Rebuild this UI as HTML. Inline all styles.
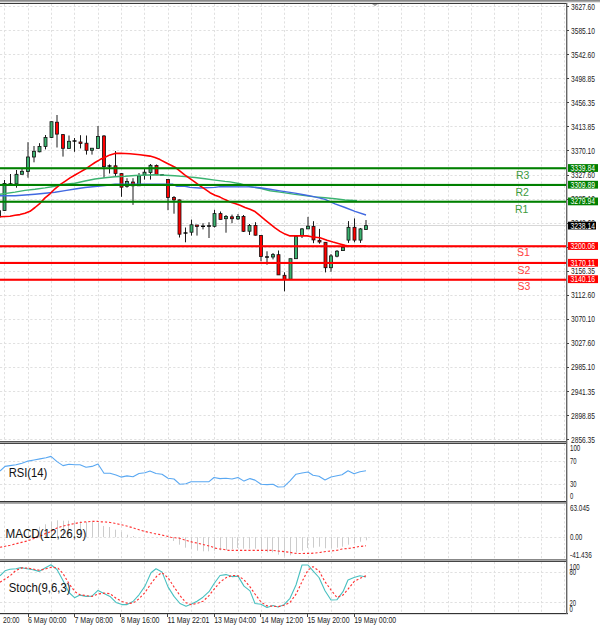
<!DOCTYPE html>
<html><head><meta charset="utf-8"><title>chart</title>
<style>html,body{margin:0;padding:0;background:#fff;width:600px;height:628px;overflow:hidden}</style>
</head><body>
<svg width="600" height="628" viewBox="0 0 600 628" font-family='"Liberation Sans", sans-serif' style="display:block">
<rect width="600" height="628" fill="#fff"/>
<rect x="0" y="0" width="600" height="1" fill="#8a8a8a"/>
<rect x="0" y="1" width="600" height="1" fill="#a8a8a8"/>
<rect x="0" y="2" width="600" height="1" fill="#e4e4e4"/>
<rect x="0" y="3" width="567" height="1" fill="#3a3a3a"/>
<line x1="4.5" y1="4.0" x2="4.5" y2="441.0" stroke="#e0e0e0" stroke-width="1" stroke-dasharray="2.2 2.13"/>
<line x1="28.5" y1="4.0" x2="28.5" y2="441.0" stroke="#e0e0e0" stroke-width="1" stroke-dasharray="2.2 2.13"/>
<line x1="51.5" y1="4.0" x2="51.5" y2="441.0" stroke="#e0e0e0" stroke-width="1" stroke-dasharray="2.2 2.13"/>
<line x1="74.5" y1="4.0" x2="74.5" y2="441.0" stroke="#e0e0e0" stroke-width="1" stroke-dasharray="2.2 2.13"/>
<line x1="98.5" y1="4.0" x2="98.5" y2="441.0" stroke="#e0e0e0" stroke-width="1" stroke-dasharray="2.2 2.13"/>
<line x1="121.5" y1="4.0" x2="121.5" y2="441.0" stroke="#e0e0e0" stroke-width="1" stroke-dasharray="2.2 2.13"/>
<line x1="144.5" y1="4.0" x2="144.5" y2="441.0" stroke="#e0e0e0" stroke-width="1" stroke-dasharray="2.2 2.13"/>
<line x1="168.5" y1="4.0" x2="168.5" y2="441.0" stroke="#e0e0e0" stroke-width="1" stroke-dasharray="2.2 2.13"/>
<line x1="191.5" y1="4.0" x2="191.5" y2="441.0" stroke="#e0e0e0" stroke-width="1" stroke-dasharray="2.2 2.13"/>
<line x1="214.5" y1="4.0" x2="214.5" y2="441.0" stroke="#e0e0e0" stroke-width="1" stroke-dasharray="2.2 2.13"/>
<line x1="238.5" y1="4.0" x2="238.5" y2="441.0" stroke="#e0e0e0" stroke-width="1" stroke-dasharray="2.2 2.13"/>
<line x1="261.5" y1="4.0" x2="261.5" y2="441.0" stroke="#e0e0e0" stroke-width="1" stroke-dasharray="2.2 2.13"/>
<line x1="284.5" y1="4.0" x2="284.5" y2="441.0" stroke="#e0e0e0" stroke-width="1" stroke-dasharray="2.2 2.13"/>
<line x1="308.5" y1="4.0" x2="308.5" y2="441.0" stroke="#e0e0e0" stroke-width="1" stroke-dasharray="2.2 2.13"/>
<line x1="331.5" y1="4.0" x2="331.5" y2="441.0" stroke="#e0e0e0" stroke-width="1" stroke-dasharray="2.2 2.13"/>
<line x1="354.5" y1="4.0" x2="354.5" y2="441.0" stroke="#e0e0e0" stroke-width="1" stroke-dasharray="2.2 2.13"/>
<line x1="378.5" y1="4.0" x2="378.5" y2="441.0" stroke="#e0e0e0" stroke-width="1" stroke-dasharray="2.2 2.13"/>
<line x1="401.5" y1="4.0" x2="401.5" y2="441.0" stroke="#e0e0e0" stroke-width="1" stroke-dasharray="2.2 2.13"/>
<line x1="424.5" y1="4.0" x2="424.5" y2="441.0" stroke="#e0e0e0" stroke-width="1" stroke-dasharray="2.2 2.13"/>
<line x1="448.5" y1="4.0" x2="448.5" y2="441.0" stroke="#e0e0e0" stroke-width="1" stroke-dasharray="2.2 2.13"/>
<line x1="471.5" y1="4.0" x2="471.5" y2="441.0" stroke="#e0e0e0" stroke-width="1" stroke-dasharray="2.2 2.13"/>
<line x1="494.5" y1="4.0" x2="494.5" y2="441.0" stroke="#e0e0e0" stroke-width="1" stroke-dasharray="2.2 2.13"/>
<line x1="518.5" y1="4.0" x2="518.5" y2="441.0" stroke="#e0e0e0" stroke-width="1" stroke-dasharray="2.2 2.13"/>
<line x1="541.5" y1="4.0" x2="541.5" y2="441.0" stroke="#e0e0e0" stroke-width="1" stroke-dasharray="2.2 2.13"/>
<line x1="564.5" y1="4.0" x2="564.5" y2="441.0" stroke="#e0e0e0" stroke-width="1" stroke-dasharray="2.2 2.13"/>
<line x1="0" y1="6.5" x2="566.5" y2="6.5" stroke="#e0e0e0" stroke-width="1" stroke-dasharray="2.2 2.13"/>
<line x1="0" y1="30.5" x2="566.5" y2="30.5" stroke="#e0e0e0" stroke-width="1" stroke-dasharray="2.2 2.13"/>
<line x1="0" y1="54.5" x2="566.5" y2="54.5" stroke="#e0e0e0" stroke-width="1" stroke-dasharray="2.2 2.13"/>
<line x1="0" y1="78.5" x2="566.5" y2="78.5" stroke="#e0e0e0" stroke-width="1" stroke-dasharray="2.2 2.13"/>
<line x1="0" y1="102.5" x2="566.5" y2="102.5" stroke="#e0e0e0" stroke-width="1" stroke-dasharray="2.2 2.13"/>
<line x1="0" y1="126.5" x2="566.5" y2="126.5" stroke="#e0e0e0" stroke-width="1" stroke-dasharray="2.2 2.13"/>
<line x1="0" y1="150.5" x2="566.5" y2="150.5" stroke="#e0e0e0" stroke-width="1" stroke-dasharray="2.2 2.13"/>
<line x1="0" y1="175.5" x2="566.5" y2="175.5" stroke="#e0e0e0" stroke-width="1" stroke-dasharray="2.2 2.13"/>
<line x1="0" y1="199.5" x2="566.5" y2="199.5" stroke="#e0e0e0" stroke-width="1" stroke-dasharray="2.2 2.13"/>
<line x1="0" y1="223.5" x2="566.5" y2="223.5" stroke="#e0e0e0" stroke-width="1" stroke-dasharray="2.2 2.13"/>
<line x1="0" y1="247.5" x2="566.5" y2="247.5" stroke="#e0e0e0" stroke-width="1" stroke-dasharray="2.2 2.13"/>
<line x1="0" y1="271.5" x2="566.5" y2="271.5" stroke="#e0e0e0" stroke-width="1" stroke-dasharray="2.2 2.13"/>
<line x1="0" y1="295.5" x2="566.5" y2="295.5" stroke="#e0e0e0" stroke-width="1" stroke-dasharray="2.2 2.13"/>
<line x1="0" y1="319.5" x2="566.5" y2="319.5" stroke="#e0e0e0" stroke-width="1" stroke-dasharray="2.2 2.13"/>
<line x1="0" y1="343.5" x2="566.5" y2="343.5" stroke="#e0e0e0" stroke-width="1" stroke-dasharray="2.2 2.13"/>
<line x1="0" y1="367.5" x2="566.5" y2="367.5" stroke="#e0e0e0" stroke-width="1" stroke-dasharray="2.2 2.13"/>
<line x1="0" y1="391.5" x2="566.5" y2="391.5" stroke="#e0e0e0" stroke-width="1" stroke-dasharray="2.2 2.13"/>
<line x1="0" y1="415.5" x2="566.5" y2="415.5" stroke="#e0e0e0" stroke-width="1" stroke-dasharray="2.2 2.13"/>
<line x1="0" y1="439.5" x2="566.5" y2="439.5" stroke="#e0e0e0" stroke-width="1" stroke-dasharray="2.2 2.13"/>
<line x1="4.5" y1="444.0" x2="4.5" y2="501.0" stroke="#e0e0e0" stroke-width="1" stroke-dasharray="2.2 2.13"/>
<line x1="28.5" y1="444.0" x2="28.5" y2="501.0" stroke="#e0e0e0" stroke-width="1" stroke-dasharray="2.2 2.13"/>
<line x1="51.5" y1="444.0" x2="51.5" y2="501.0" stroke="#e0e0e0" stroke-width="1" stroke-dasharray="2.2 2.13"/>
<line x1="74.5" y1="444.0" x2="74.5" y2="501.0" stroke="#e0e0e0" stroke-width="1" stroke-dasharray="2.2 2.13"/>
<line x1="98.5" y1="444.0" x2="98.5" y2="501.0" stroke="#e0e0e0" stroke-width="1" stroke-dasharray="2.2 2.13"/>
<line x1="121.5" y1="444.0" x2="121.5" y2="501.0" stroke="#e0e0e0" stroke-width="1" stroke-dasharray="2.2 2.13"/>
<line x1="144.5" y1="444.0" x2="144.5" y2="501.0" stroke="#e0e0e0" stroke-width="1" stroke-dasharray="2.2 2.13"/>
<line x1="168.5" y1="444.0" x2="168.5" y2="501.0" stroke="#e0e0e0" stroke-width="1" stroke-dasharray="2.2 2.13"/>
<line x1="191.5" y1="444.0" x2="191.5" y2="501.0" stroke="#e0e0e0" stroke-width="1" stroke-dasharray="2.2 2.13"/>
<line x1="214.5" y1="444.0" x2="214.5" y2="501.0" stroke="#e0e0e0" stroke-width="1" stroke-dasharray="2.2 2.13"/>
<line x1="238.5" y1="444.0" x2="238.5" y2="501.0" stroke="#e0e0e0" stroke-width="1" stroke-dasharray="2.2 2.13"/>
<line x1="261.5" y1="444.0" x2="261.5" y2="501.0" stroke="#e0e0e0" stroke-width="1" stroke-dasharray="2.2 2.13"/>
<line x1="284.5" y1="444.0" x2="284.5" y2="501.0" stroke="#e0e0e0" stroke-width="1" stroke-dasharray="2.2 2.13"/>
<line x1="308.5" y1="444.0" x2="308.5" y2="501.0" stroke="#e0e0e0" stroke-width="1" stroke-dasharray="2.2 2.13"/>
<line x1="331.5" y1="444.0" x2="331.5" y2="501.0" stroke="#e0e0e0" stroke-width="1" stroke-dasharray="2.2 2.13"/>
<line x1="354.5" y1="444.0" x2="354.5" y2="501.0" stroke="#e0e0e0" stroke-width="1" stroke-dasharray="2.2 2.13"/>
<line x1="378.5" y1="444.0" x2="378.5" y2="501.0" stroke="#e0e0e0" stroke-width="1" stroke-dasharray="2.2 2.13"/>
<line x1="401.5" y1="444.0" x2="401.5" y2="501.0" stroke="#e0e0e0" stroke-width="1" stroke-dasharray="2.2 2.13"/>
<line x1="424.5" y1="444.0" x2="424.5" y2="501.0" stroke="#e0e0e0" stroke-width="1" stroke-dasharray="2.2 2.13"/>
<line x1="448.5" y1="444.0" x2="448.5" y2="501.0" stroke="#e0e0e0" stroke-width="1" stroke-dasharray="2.2 2.13"/>
<line x1="471.5" y1="444.0" x2="471.5" y2="501.0" stroke="#e0e0e0" stroke-width="1" stroke-dasharray="2.2 2.13"/>
<line x1="494.5" y1="444.0" x2="494.5" y2="501.0" stroke="#e0e0e0" stroke-width="1" stroke-dasharray="2.2 2.13"/>
<line x1="518.5" y1="444.0" x2="518.5" y2="501.0" stroke="#e0e0e0" stroke-width="1" stroke-dasharray="2.2 2.13"/>
<line x1="541.5" y1="444.0" x2="541.5" y2="501.0" stroke="#e0e0e0" stroke-width="1" stroke-dasharray="2.2 2.13"/>
<line x1="564.5" y1="444.0" x2="564.5" y2="501.0" stroke="#e0e0e0" stroke-width="1" stroke-dasharray="2.2 2.13"/>
<line x1="0" y1="461.5" x2="566.5" y2="461.5" stroke="#e0e0e0" stroke-width="1" stroke-dasharray="2.2 2.13"/>
<line x1="0" y1="484.5" x2="566.5" y2="484.5" stroke="#e0e0e0" stroke-width="1" stroke-dasharray="2.2 2.13"/>
<line x1="4.5" y1="504.0" x2="4.5" y2="559.0" stroke="#e0e0e0" stroke-width="1" stroke-dasharray="2.2 2.13"/>
<line x1="28.5" y1="504.0" x2="28.5" y2="559.0" stroke="#e0e0e0" stroke-width="1" stroke-dasharray="2.2 2.13"/>
<line x1="51.5" y1="504.0" x2="51.5" y2="559.0" stroke="#e0e0e0" stroke-width="1" stroke-dasharray="2.2 2.13"/>
<line x1="74.5" y1="504.0" x2="74.5" y2="559.0" stroke="#e0e0e0" stroke-width="1" stroke-dasharray="2.2 2.13"/>
<line x1="98.5" y1="504.0" x2="98.5" y2="559.0" stroke="#e0e0e0" stroke-width="1" stroke-dasharray="2.2 2.13"/>
<line x1="121.5" y1="504.0" x2="121.5" y2="559.0" stroke="#e0e0e0" stroke-width="1" stroke-dasharray="2.2 2.13"/>
<line x1="144.5" y1="504.0" x2="144.5" y2="559.0" stroke="#e0e0e0" stroke-width="1" stroke-dasharray="2.2 2.13"/>
<line x1="168.5" y1="504.0" x2="168.5" y2="559.0" stroke="#e0e0e0" stroke-width="1" stroke-dasharray="2.2 2.13"/>
<line x1="191.5" y1="504.0" x2="191.5" y2="559.0" stroke="#e0e0e0" stroke-width="1" stroke-dasharray="2.2 2.13"/>
<line x1="214.5" y1="504.0" x2="214.5" y2="559.0" stroke="#e0e0e0" stroke-width="1" stroke-dasharray="2.2 2.13"/>
<line x1="238.5" y1="504.0" x2="238.5" y2="559.0" stroke="#e0e0e0" stroke-width="1" stroke-dasharray="2.2 2.13"/>
<line x1="261.5" y1="504.0" x2="261.5" y2="559.0" stroke="#e0e0e0" stroke-width="1" stroke-dasharray="2.2 2.13"/>
<line x1="284.5" y1="504.0" x2="284.5" y2="559.0" stroke="#e0e0e0" stroke-width="1" stroke-dasharray="2.2 2.13"/>
<line x1="308.5" y1="504.0" x2="308.5" y2="559.0" stroke="#e0e0e0" stroke-width="1" stroke-dasharray="2.2 2.13"/>
<line x1="331.5" y1="504.0" x2="331.5" y2="559.0" stroke="#e0e0e0" stroke-width="1" stroke-dasharray="2.2 2.13"/>
<line x1="354.5" y1="504.0" x2="354.5" y2="559.0" stroke="#e0e0e0" stroke-width="1" stroke-dasharray="2.2 2.13"/>
<line x1="378.5" y1="504.0" x2="378.5" y2="559.0" stroke="#e0e0e0" stroke-width="1" stroke-dasharray="2.2 2.13"/>
<line x1="401.5" y1="504.0" x2="401.5" y2="559.0" stroke="#e0e0e0" stroke-width="1" stroke-dasharray="2.2 2.13"/>
<line x1="424.5" y1="504.0" x2="424.5" y2="559.0" stroke="#e0e0e0" stroke-width="1" stroke-dasharray="2.2 2.13"/>
<line x1="448.5" y1="504.0" x2="448.5" y2="559.0" stroke="#e0e0e0" stroke-width="1" stroke-dasharray="2.2 2.13"/>
<line x1="471.5" y1="504.0" x2="471.5" y2="559.0" stroke="#e0e0e0" stroke-width="1" stroke-dasharray="2.2 2.13"/>
<line x1="494.5" y1="504.0" x2="494.5" y2="559.0" stroke="#e0e0e0" stroke-width="1" stroke-dasharray="2.2 2.13"/>
<line x1="518.5" y1="504.0" x2="518.5" y2="559.0" stroke="#e0e0e0" stroke-width="1" stroke-dasharray="2.2 2.13"/>
<line x1="541.5" y1="504.0" x2="541.5" y2="559.0" stroke="#e0e0e0" stroke-width="1" stroke-dasharray="2.2 2.13"/>
<line x1="564.5" y1="504.0" x2="564.5" y2="559.0" stroke="#e0e0e0" stroke-width="1" stroke-dasharray="2.2 2.13"/>
<line x1="0" y1="537.5" x2="566.5" y2="537.5" stroke="#e0e0e0" stroke-width="1" stroke-dasharray="2.2 2.13"/>
<line x1="4.5" y1="562.0" x2="4.5" y2="613.0" stroke="#e0e0e0" stroke-width="1" stroke-dasharray="2.2 2.13"/>
<line x1="28.5" y1="562.0" x2="28.5" y2="613.0" stroke="#e0e0e0" stroke-width="1" stroke-dasharray="2.2 2.13"/>
<line x1="51.5" y1="562.0" x2="51.5" y2="613.0" stroke="#e0e0e0" stroke-width="1" stroke-dasharray="2.2 2.13"/>
<line x1="74.5" y1="562.0" x2="74.5" y2="613.0" stroke="#e0e0e0" stroke-width="1" stroke-dasharray="2.2 2.13"/>
<line x1="98.5" y1="562.0" x2="98.5" y2="613.0" stroke="#e0e0e0" stroke-width="1" stroke-dasharray="2.2 2.13"/>
<line x1="121.5" y1="562.0" x2="121.5" y2="613.0" stroke="#e0e0e0" stroke-width="1" stroke-dasharray="2.2 2.13"/>
<line x1="144.5" y1="562.0" x2="144.5" y2="613.0" stroke="#e0e0e0" stroke-width="1" stroke-dasharray="2.2 2.13"/>
<line x1="168.5" y1="562.0" x2="168.5" y2="613.0" stroke="#e0e0e0" stroke-width="1" stroke-dasharray="2.2 2.13"/>
<line x1="191.5" y1="562.0" x2="191.5" y2="613.0" stroke="#e0e0e0" stroke-width="1" stroke-dasharray="2.2 2.13"/>
<line x1="214.5" y1="562.0" x2="214.5" y2="613.0" stroke="#e0e0e0" stroke-width="1" stroke-dasharray="2.2 2.13"/>
<line x1="238.5" y1="562.0" x2="238.5" y2="613.0" stroke="#e0e0e0" stroke-width="1" stroke-dasharray="2.2 2.13"/>
<line x1="261.5" y1="562.0" x2="261.5" y2="613.0" stroke="#e0e0e0" stroke-width="1" stroke-dasharray="2.2 2.13"/>
<line x1="284.5" y1="562.0" x2="284.5" y2="613.0" stroke="#e0e0e0" stroke-width="1" stroke-dasharray="2.2 2.13"/>
<line x1="308.5" y1="562.0" x2="308.5" y2="613.0" stroke="#e0e0e0" stroke-width="1" stroke-dasharray="2.2 2.13"/>
<line x1="331.5" y1="562.0" x2="331.5" y2="613.0" stroke="#e0e0e0" stroke-width="1" stroke-dasharray="2.2 2.13"/>
<line x1="354.5" y1="562.0" x2="354.5" y2="613.0" stroke="#e0e0e0" stroke-width="1" stroke-dasharray="2.2 2.13"/>
<line x1="378.5" y1="562.0" x2="378.5" y2="613.0" stroke="#e0e0e0" stroke-width="1" stroke-dasharray="2.2 2.13"/>
<line x1="401.5" y1="562.0" x2="401.5" y2="613.0" stroke="#e0e0e0" stroke-width="1" stroke-dasharray="2.2 2.13"/>
<line x1="424.5" y1="562.0" x2="424.5" y2="613.0" stroke="#e0e0e0" stroke-width="1" stroke-dasharray="2.2 2.13"/>
<line x1="448.5" y1="562.0" x2="448.5" y2="613.0" stroke="#e0e0e0" stroke-width="1" stroke-dasharray="2.2 2.13"/>
<line x1="471.5" y1="562.0" x2="471.5" y2="613.0" stroke="#e0e0e0" stroke-width="1" stroke-dasharray="2.2 2.13"/>
<line x1="494.5" y1="562.0" x2="494.5" y2="613.0" stroke="#e0e0e0" stroke-width="1" stroke-dasharray="2.2 2.13"/>
<line x1="518.5" y1="562.0" x2="518.5" y2="613.0" stroke="#e0e0e0" stroke-width="1" stroke-dasharray="2.2 2.13"/>
<line x1="541.5" y1="562.0" x2="541.5" y2="613.0" stroke="#e0e0e0" stroke-width="1" stroke-dasharray="2.2 2.13"/>
<line x1="564.5" y1="562.0" x2="564.5" y2="613.0" stroke="#e0e0e0" stroke-width="1" stroke-dasharray="2.2 2.13"/>
<line x1="0" y1="572.5" x2="566.5" y2="572.5" stroke="#e0e0e0" stroke-width="1" stroke-dasharray="2.2 2.13"/>
<line x1="0" y1="602.5" x2="566.5" y2="602.5" stroke="#e0e0e0" stroke-width="1" stroke-dasharray="2.2 2.13"/>
<line x1="0" y1="225.5" x2="567" y2="225.5" stroke="#d8d8d8" stroke-width="1"/>
<g>
<rect x="-2" y="210.3" width="3" height="7" fill="#222"/>
<line x1="4.5" y1="180.0" x2="4.5" y2="211.0" stroke="#1a1a1a" stroke-width="1"/>
<rect x="3.0" y="183.4" width="3" height="27.2" fill="#3cb371" stroke="#111" stroke-width="0.8"/>
<line x1="10.5" y1="174.0" x2="10.5" y2="185.0" stroke="#1a1a1a" stroke-width="1"/>
<line x1="8.5" y1="184.0" x2="12.5" y2="184.0" stroke="#000" stroke-width="1.4"/>
<line x1="16.5" y1="170.0" x2="16.5" y2="187.7" stroke="#1a1a1a" stroke-width="1"/>
<rect x="15.0" y="174.3" width="3" height="9.6" fill="#3cb371" stroke="#111" stroke-width="0.8"/>
<line x1="22.0" y1="169.0" x2="22.0" y2="174.5" stroke="#1a1a1a" stroke-width="1"/>
<rect x="20.5" y="171.3" width="3" height="3.0" fill="#3cb371" stroke="#111" stroke-width="0.8"/>
<line x1="28.0" y1="142.2" x2="28.0" y2="177.7" stroke="#1a1a1a" stroke-width="1"/>
<rect x="26.5" y="157.0" width="3" height="14.5" fill="#3cb371" stroke="#111" stroke-width="0.8"/>
<line x1="34.0" y1="146.0" x2="34.0" y2="162.3" stroke="#1a1a1a" stroke-width="1"/>
<rect x="32.5" y="151.3" width="3" height="5.7" fill="#3cb371" stroke="#111" stroke-width="0.8"/>
<line x1="39.5" y1="143.2" x2="39.5" y2="152.3" stroke="#1a1a1a" stroke-width="1"/>
<rect x="38.0" y="146.5" width="3" height="5.3" fill="#3cb371" stroke="#111" stroke-width="0.8"/>
<line x1="45.5" y1="135.0" x2="45.5" y2="149.4" stroke="#1a1a1a" stroke-width="1"/>
<rect x="44.0" y="137.5" width="3" height="9.0" fill="#3cb371" stroke="#111" stroke-width="0.8"/>
<line x1="51.5" y1="121.7" x2="51.5" y2="138.0" stroke="#1a1a1a" stroke-width="1"/>
<rect x="50.0" y="121.7" width="3" height="15.8" fill="#3cb371" stroke="#111" stroke-width="0.8"/>
<line x1="57.0" y1="115.0" x2="57.0" y2="147.5" stroke="#1a1a1a" stroke-width="1"/>
<rect x="55.5" y="122.2" width="3" height="11.9" fill="#ff0000" stroke="#111" stroke-width="0.8"/>
<line x1="63.0" y1="134.0" x2="63.0" y2="156.6" stroke="#1a1a1a" stroke-width="1"/>
<rect x="61.5" y="134.6" width="3" height="13.7" fill="#ff0000" stroke="#111" stroke-width="0.8"/>
<line x1="69.0" y1="135.5" x2="69.0" y2="148.4" stroke="#1a1a1a" stroke-width="1"/>
<rect x="67.5" y="141.3" width="3" height="7.1" fill="#3cb371" stroke="#111" stroke-width="0.8"/>
<line x1="74.5" y1="138.0" x2="74.5" y2="151.8" stroke="#1a1a1a" stroke-width="1"/>
<line x1="72.5" y1="141.0" x2="76.5" y2="141.0" stroke="#000" stroke-width="1.4"/>
<line x1="80.5" y1="135.2" x2="80.5" y2="148.4" stroke="#1a1a1a" stroke-width="1"/>
<rect x="79.0" y="142.0" width="3" height="1.5" fill="#ff0000" stroke="#111" stroke-width="0.8"/>
<line x1="86.5" y1="135.5" x2="86.5" y2="154.6" stroke="#1a1a1a" stroke-width="1"/>
<rect x="85.0" y="143.2" width="3" height="7.1" fill="#ff0000" stroke="#111" stroke-width="0.8"/>
<line x1="92.0" y1="148.0" x2="92.0" y2="154.6" stroke="#1a1a1a" stroke-width="1"/>
<rect x="90.5" y="148.2" width="3" height="2.1" fill="#3cb371" stroke="#111" stroke-width="0.8"/>
<line x1="98.0" y1="126.0" x2="98.0" y2="148.4" stroke="#1a1a1a" stroke-width="1"/>
<rect x="96.5" y="136.5" width="3" height="11.9" fill="#3cb371" stroke="#111" stroke-width="0.8"/>
<line x1="104.0" y1="135.0" x2="104.0" y2="177.8" stroke="#1a1a1a" stroke-width="1"/>
<rect x="102.5" y="136.0" width="3" height="30.6" fill="#ff0000" stroke="#111" stroke-width="0.8"/>
<line x1="109.5" y1="164.4" x2="109.5" y2="173.5" stroke="#1a1a1a" stroke-width="1"/>
<line x1="107.5" y1="166.0" x2="111.5" y2="166.0" stroke="#000" stroke-width="1.4"/>
<line x1="115.5" y1="151.0" x2="115.5" y2="175.9" stroke="#1a1a1a" stroke-width="1"/>
<rect x="114.0" y="165.8" width="3" height="7.7" fill="#ff0000" stroke="#111" stroke-width="0.8"/>
<line x1="121.5" y1="173.0" x2="121.5" y2="196.8" stroke="#1a1a1a" stroke-width="1"/>
<rect x="120.0" y="173.6" width="3" height="13.6" fill="#ff0000" stroke="#111" stroke-width="0.8"/>
<line x1="127.0" y1="178.2" x2="127.0" y2="187.7" stroke="#1a1a1a" stroke-width="1"/>
<rect x="125.5" y="181.5" width="3" height="4.8" fill="#3cb371" stroke="#111" stroke-width="0.8"/>
<line x1="133.0" y1="178.2" x2="133.0" y2="204.9" stroke="#1a1a1a" stroke-width="1"/>
<rect x="131.5" y="182.0" width="3" height="3.8" fill="#ff0000" stroke="#111" stroke-width="0.8"/>
<line x1="139.0" y1="173.0" x2="139.0" y2="186.0" stroke="#1a1a1a" stroke-width="1"/>
<rect x="137.5" y="175.8" width="3" height="10.0" fill="#3cb371" stroke="#111" stroke-width="0.8"/>
<line x1="144.5" y1="169.1" x2="144.5" y2="179.6" stroke="#1a1a1a" stroke-width="1"/>
<rect x="143.0" y="172.2" width="3" height="2.8" fill="#3cb371" stroke="#111" stroke-width="0.8"/>
<line x1="150.5" y1="164.0" x2="150.5" y2="179.6" stroke="#1a1a1a" stroke-width="1"/>
<rect x="149.0" y="165.3" width="3" height="7.1" fill="#3cb371" stroke="#111" stroke-width="0.8"/>
<line x1="156.5" y1="164.5" x2="156.5" y2="175.0" stroke="#1a1a1a" stroke-width="1"/>
<rect x="155.0" y="165.5" width="3" height="9.1" fill="#ff0000" stroke="#111" stroke-width="0.8"/>
<line x1="162.0" y1="174.0" x2="162.0" y2="176.0" stroke="#1a1a1a" stroke-width="1"/>
<line x1="160.0" y1="175.0" x2="164.0" y2="175.0" stroke="#000" stroke-width="1.4"/>
<line x1="168.0" y1="179.0" x2="168.0" y2="210.2" stroke="#1a1a1a" stroke-width="1"/>
<rect x="166.5" y="179.4" width="3" height="18.1" fill="#ff0000" stroke="#111" stroke-width="0.8"/>
<line x1="174.0" y1="196.0" x2="174.0" y2="213.7" stroke="#1a1a1a" stroke-width="1"/>
<rect x="172.5" y="197.5" width="3" height="2.4" fill="#ff0000" stroke="#111" stroke-width="0.8"/>
<line x1="179.5" y1="199.5" x2="179.5" y2="237.5" stroke="#1a1a1a" stroke-width="1"/>
<rect x="178.0" y="199.9" width="3" height="34.3" fill="#ff0000" stroke="#111" stroke-width="0.8"/>
<line x1="185.5" y1="227.5" x2="185.5" y2="242.3" stroke="#1a1a1a" stroke-width="1"/>
<line x1="183.5" y1="233.0" x2="187.5" y2="233.0" stroke="#000" stroke-width="1.4"/>
<line x1="191.5" y1="219.6" x2="191.5" y2="235.6" stroke="#1a1a1a" stroke-width="1"/>
<rect x="190.0" y="224.8" width="3" height="7.4" fill="#3cb371" stroke="#111" stroke-width="0.8"/>
<line x1="197.0" y1="225.0" x2="197.0" y2="235.6" stroke="#1a1a1a" stroke-width="1"/>
<rect x="195.5" y="225.0" width="3" height="1.5" fill="#ff0000" stroke="#111" stroke-width="0.8"/>
<line x1="203.0" y1="223.2" x2="203.0" y2="229.4" stroke="#1a1a1a" stroke-width="1"/>
<line x1="201.0" y1="226.3" x2="205.0" y2="226.3" stroke="#000" stroke-width="1.4"/>
<line x1="209.0" y1="222.2" x2="209.0" y2="238.0" stroke="#1a1a1a" stroke-width="1"/>
<line x1="207.0" y1="226.0" x2="211.0" y2="226.0" stroke="#000" stroke-width="1.4"/>
<line x1="214.5" y1="209.8" x2="214.5" y2="227.5" stroke="#1a1a1a" stroke-width="1"/>
<rect x="213.0" y="213.6" width="3" height="12.7" fill="#3cb371" stroke="#111" stroke-width="0.8"/>
<line x1="220.5" y1="211.5" x2="220.5" y2="219.4" stroke="#1a1a1a" stroke-width="1"/>
<rect x="219.0" y="213.6" width="3" height="5.8" fill="#ff0000" stroke="#111" stroke-width="0.8"/>
<line x1="226.0" y1="215.0" x2="226.0" y2="232.7" stroke="#1a1a1a" stroke-width="1"/>
<rect x="224.5" y="216.5" width="3" height="2.2" fill="#3cb371" stroke="#111" stroke-width="0.8"/>
<line x1="232.0" y1="214.6" x2="232.0" y2="223.2" stroke="#1a1a1a" stroke-width="1"/>
<rect x="230.5" y="216.8" width="3" height="1.9" fill="#ff0000" stroke="#111" stroke-width="0.8"/>
<line x1="238.0" y1="214.0" x2="238.0" y2="220.0" stroke="#1a1a1a" stroke-width="1"/>
<rect x="236.5" y="216.5" width="3" height="2.4" fill="#3cb371" stroke="#111" stroke-width="0.8"/>
<line x1="243.5" y1="215.0" x2="243.5" y2="232.0" stroke="#1a1a1a" stroke-width="1"/>
<rect x="242.0" y="216.5" width="3" height="14.8" fill="#ff0000" stroke="#111" stroke-width="0.8"/>
<line x1="249.5" y1="224.0" x2="249.5" y2="235.0" stroke="#1a1a1a" stroke-width="1"/>
<rect x="248.0" y="225.5" width="3" height="5.7" fill="#3cb371" stroke="#111" stroke-width="0.8"/>
<line x1="255.5" y1="222.2" x2="255.5" y2="235.5" stroke="#1a1a1a" stroke-width="1"/>
<rect x="254.0" y="225.5" width="3" height="9.7" fill="#ff0000" stroke="#111" stroke-width="0.8"/>
<line x1="261.0" y1="235.0" x2="261.0" y2="261.3" stroke="#1a1a1a" stroke-width="1"/>
<rect x="259.5" y="235.5" width="3" height="21.0" fill="#ff0000" stroke="#111" stroke-width="0.8"/>
<line x1="267.0" y1="251.3" x2="267.0" y2="264.7" stroke="#1a1a1a" stroke-width="1"/>
<line x1="265.0" y1="257.0" x2="269.0" y2="257.0" stroke="#000" stroke-width="1.4"/>
<line x1="273.0" y1="253.0" x2="273.0" y2="259.4" stroke="#1a1a1a" stroke-width="1"/>
<rect x="271.5" y="254.6" width="3" height="2.4" fill="#3cb371" stroke="#111" stroke-width="0.8"/>
<line x1="278.5" y1="250.5" x2="278.5" y2="275.0" stroke="#1a1a1a" stroke-width="1"/>
<rect x="277.0" y="254.7" width="3" height="20.2" fill="#ff0000" stroke="#111" stroke-width="0.8"/>
<line x1="284.5" y1="272.3" x2="284.5" y2="291.3" stroke="#1a1a1a" stroke-width="1"/>
<rect x="283.0" y="275.3" width="3" height="4.1" fill="#ff0000" stroke="#111" stroke-width="0.8"/>
<line x1="290.5" y1="258.7" x2="290.5" y2="280.0" stroke="#1a1a1a" stroke-width="1"/>
<rect x="289.0" y="258.7" width="3" height="20.6" fill="#3cb371" stroke="#111" stroke-width="0.8"/>
<line x1="296.0" y1="236.0" x2="296.0" y2="259.0" stroke="#1a1a1a" stroke-width="1"/>
<rect x="294.5" y="236.5" width="3" height="22.2" fill="#3cb371" stroke="#111" stroke-width="0.8"/>
<line x1="302.0" y1="228.0" x2="302.0" y2="238.0" stroke="#1a1a1a" stroke-width="1"/>
<rect x="300.5" y="228.9" width="3" height="6.7" fill="#3cb371" stroke="#111" stroke-width="0.8"/>
<line x1="308.0" y1="216.9" x2="308.0" y2="229.0" stroke="#1a1a1a" stroke-width="1"/>
<rect x="306.5" y="226.2" width="3" height="2.7" fill="#3cb371" stroke="#111" stroke-width="0.8"/>
<line x1="313.5" y1="221.2" x2="313.5" y2="243.2" stroke="#1a1a1a" stroke-width="1"/>
<rect x="312.0" y="226.5" width="3" height="13.4" fill="#ff0000" stroke="#111" stroke-width="0.8"/>
<line x1="319.5" y1="228.9" x2="319.5" y2="243.7" stroke="#1a1a1a" stroke-width="1"/>
<rect x="318.0" y="240.3" width="3" height="1.7" fill="#ff0000" stroke="#111" stroke-width="0.8"/>
<line x1="325.5" y1="242.0" x2="325.5" y2="272.4" stroke="#1a1a1a" stroke-width="1"/>
<rect x="324.0" y="242.3" width="3" height="25.4" fill="#ff0000" stroke="#111" stroke-width="0.8"/>
<line x1="331.0" y1="254.0" x2="331.0" y2="271.8" stroke="#1a1a1a" stroke-width="1"/>
<rect x="329.5" y="255.9" width="3" height="11.8" fill="#3cb371" stroke="#111" stroke-width="0.8"/>
<line x1="337.0" y1="250.0" x2="337.0" y2="257.3" stroke="#1a1a1a" stroke-width="1"/>
<rect x="335.5" y="251.2" width="3" height="5.0" fill="#3cb371" stroke="#111" stroke-width="0.8"/>
<line x1="343.0" y1="245.0" x2="343.0" y2="251.0" stroke="#1a1a1a" stroke-width="1"/>
<rect x="341.5" y="247.3" width="3" height="3.3" fill="#3cb371" stroke="#111" stroke-width="0.8"/>
<line x1="348.5" y1="221.1" x2="348.5" y2="242.9" stroke="#1a1a1a" stroke-width="1"/>
<rect x="347.0" y="227.3" width="3" height="12.8" fill="#3cb371" stroke="#111" stroke-width="0.8"/>
<line x1="354.5" y1="218.4" x2="354.5" y2="242.3" stroke="#1a1a1a" stroke-width="1"/>
<rect x="353.0" y="227.3" width="3" height="12.8" fill="#ff0000" stroke="#111" stroke-width="0.8"/>
<line x1="360.5" y1="228.0" x2="360.5" y2="242.9" stroke="#1a1a1a" stroke-width="1"/>
<rect x="359.0" y="228.9" width="3" height="11.2" fill="#3cb371" stroke="#111" stroke-width="0.8"/>
<line x1="366.0" y1="220.0" x2="366.0" y2="230.0" stroke="#1a1a1a" stroke-width="1"/>
<rect x="364.5" y="225.6" width="3" height="3.9" fill="#3cb371" stroke="#111" stroke-width="0.8"/>
</g>
<polyline points="0.0,194.2 15.0,192.1 25.0,190.4 35.0,189.3 45.0,187.9 55.0,186.2 65.0,184.3 75.0,183.2 85.0,181.0 95.0,179.0 105.0,177.7 115.0,176.8 125.0,176.3 135.0,175.5 155.0,174.8 165.0,175.2 175.0,175.8 185.0,176.6 195.0,177.5 205.0,178.7 215.0,180.1 225.0,181.4 230.0,181.9 240.0,183.7 250.0,186.6 260.0,188.3 270.0,190.7 280.0,192.1 290.0,193.6 295.0,194.4 305.0,195.6 315.0,196.9 325.0,197.8 335.0,198.8 345.0,200.0 357.0,200.8" fill="none" stroke="#3cb371" stroke-width="1.4" stroke-linejoin="round"/>
<polyline points="0.0,195.8 15.0,195.8 25.0,195.0 35.0,194.2 45.0,193.3 55.0,192.3 65.0,190.6 75.0,189.0 85.0,187.5 95.0,186.5 105.0,185.5 115.0,184.3 173.0,184.3 177.0,186.3 185.0,186.3 190.0,187.4 200.0,188.0 215.0,187.4 220.0,186.6 250.0,186.9 260.0,187.8 270.0,189.3 280.0,190.9 290.0,192.4 295.0,193.1 305.0,195.0 315.0,196.9 325.0,199.4 335.0,203.8 345.0,207.5 355.0,211.3 366.0,215.0" fill="none" stroke="#4169e1" stroke-width="1.4" stroke-linejoin="round"/>
<polyline points="0.0,216.7 10.0,216.2 15.0,215.3 20.0,214.6 25.0,213.3 30.0,211.3 35.0,207.5 40.0,203.3 45.0,197.9 50.0,193.8 55.0,188.8 60.0,184.6 65.0,181.3 70.0,177.9 75.0,175.0 80.0,172.1 85.0,169.3 90.0,165.8 95.0,162.5 100.0,159.6 105.0,157.3 110.0,154.9 115.0,153.4 120.0,153.2 130.0,153.8 140.0,154.7 150.0,156.1 155.0,157.6 160.0,159.6 165.0,162.2 170.0,164.7 175.0,167.2 180.0,171.2 185.0,175.2 190.0,178.7 195.0,182.2 200.0,185.9 205.0,189.2 210.0,192.7 215.0,195.2 220.0,197.1 225.0,199.6 230.0,201.9 235.0,203.4 240.0,205.2 245.0,207.5 250.0,209.3 255.0,211.6 260.0,215.7 265.0,219.8 270.0,223.8 275.0,227.9 280.0,231.4 285.0,234.1 290.0,235.9 307.0,235.9 313.0,237.0 320.0,237.7 327.0,240.3 333.0,242.1 340.0,243.9 345.0,245.3 348.0,246.0 366.0,246.0" fill="none" stroke="#ff0000" stroke-width="1.6" stroke-linejoin="round"/>
<rect x="0" y="167.20" width="567" height="2.1" fill="#008000"/>
<rect x="0" y="183.90" width="567" height="2.1" fill="#008000"/>
<rect x="0" y="200.70" width="567" height="2.1" fill="#008000"/>
<rect x="0" y="245.20" width="567" height="2.1" fill="#ff0000"/>
<rect x="0" y="261.90" width="567" height="2.1" fill="#ff0000"/>
<rect x="0" y="278.70" width="567" height="2.1" fill="#ff0000"/>
<polygon points="372,4 378,4 375,6" fill="#999"/>
<polyline points="0.0,471.1 5.0,466.4 10.0,465.6 16.0,464.8 22.0,463.2 28.0,461.1 34.0,460.0 40.0,458.9 46.0,457.7 51.0,456.4 57.0,461.6 63.0,465.6 69.0,464.3 75.0,464.8 80.0,464.8 86.0,467.2 92.0,466.4 98.0,464.0 104.0,473.2 110.0,473.2 116.0,475.1 121.0,477.1 127.0,475.9 133.0,476.7 139.0,473.5 145.0,472.7 150.0,471.1 156.0,473.5 162.0,474.3 168.0,478.2 174.0,479.0 180.0,484.3 186.0,483.8 191.0,481.7 209.0,481.7 214.0,477.5 220.0,478.6 226.0,478.2 232.0,479.0 238.0,477.5 244.0,481.1 250.0,478.6 255.0,480.1 261.0,484.3 267.0,484.6 273.0,484.2 278.0,487.0 284.0,486.7 290.0,480.8 296.0,474.2 302.0,473.0 308.0,472.0 313.0,475.3 319.0,476.3 325.0,480.0 331.0,477.0 337.0,475.8 342.0,474.7 348.0,470.8 354.0,473.7 360.0,471.7 366.0,470.8" fill="none" stroke="#5aa8f2" stroke-width="1.1" stroke-linejoin="round"/>
<g stroke="#cccccc" stroke-width="1">
<line x1="4.5" y1="537.2" x2="4.5" y2="537.0"/>
<line x1="10.5" y1="537.2" x2="10.5" y2="536.5"/>
<line x1="16.5" y1="537.2" x2="16.5" y2="535.5"/>
<line x1="22.5" y1="537.2" x2="22.5" y2="534.0"/>
<line x1="28.5" y1="537.2" x2="28.5" y2="532.0"/>
<line x1="33.5" y1="537.2" x2="33.5" y2="530.0"/>
<line x1="39.5" y1="537.2" x2="39.5" y2="526.7"/>
<line x1="45.5" y1="537.2" x2="45.5" y2="524.3"/>
<line x1="51.5" y1="537.2" x2="51.5" y2="521.7"/>
<line x1="57.5" y1="537.2" x2="57.5" y2="520.3"/>
<line x1="63.5" y1="537.2" x2="63.5" y2="520.7"/>
<line x1="68.5" y1="537.2" x2="68.5" y2="520.7"/>
<line x1="74.5" y1="537.2" x2="74.5" y2="520.5"/>
<line x1="80.5" y1="537.2" x2="80.5" y2="521.3"/>
<line x1="86.5" y1="537.2" x2="86.5" y2="521.9"/>
<line x1="92.5" y1="537.2" x2="92.5" y2="522.0"/>
<line x1="98.5" y1="537.2" x2="98.5" y2="523.0"/>
<line x1="103.5" y1="537.2" x2="103.5" y2="526.0"/>
<line x1="109.5" y1="537.2" x2="109.5" y2="527.0"/>
<line x1="115.5" y1="537.2" x2="115.5" y2="529.7"/>
<line x1="121.5" y1="537.2" x2="121.5" y2="532.0"/>
<line x1="127.5" y1="537.2" x2="127.5" y2="534.7"/>
<line x1="133.5" y1="537.2" x2="133.5" y2="536.0"/>
<line x1="138.5" y1="537.2" x2="138.5" y2="537.0"/>
<line x1="168.5" y1="537.2" x2="168.5" y2="538.0"/>
<line x1="173.5" y1="537.2" x2="173.5" y2="541.0"/>
<line x1="179.5" y1="537.2" x2="179.5" y2="544.7"/>
<line x1="185.5" y1="537.2" x2="185.5" y2="547.7"/>
<line x1="191.5" y1="537.2" x2="191.5" y2="549.0"/>
<line x1="197.5" y1="537.2" x2="197.5" y2="550.7"/>
<line x1="203.5" y1="537.2" x2="203.5" y2="551.3"/>
<line x1="208.5" y1="537.2" x2="208.5" y2="551.3"/>
<line x1="214.5" y1="537.2" x2="214.5" y2="550.7"/>
<line x1="220.5" y1="537.2" x2="220.5" y2="550.3"/>
<line x1="226.5" y1="537.2" x2="226.5" y2="550.0"/>
<line x1="232.5" y1="537.2" x2="232.5" y2="549.0"/>
<line x1="237.5" y1="537.2" x2="237.5" y2="548.0"/>
<line x1="243.5" y1="537.2" x2="243.5" y2="548.7"/>
<line x1="249.5" y1="537.2" x2="249.5" y2="548.7"/>
<line x1="255.5" y1="537.2" x2="255.5" y2="548.7"/>
<line x1="261.5" y1="537.2" x2="261.5" y2="550.7"/>
<line x1="267.5" y1="537.2" x2="267.5" y2="552.3"/>
<line x1="272.5" y1="537.2" x2="272.5" y2="552.3"/>
<line x1="278.5" y1="537.2" x2="278.5" y2="554.7"/>
<line x1="284.5" y1="537.2" x2="284.5" y2="556.3"/>
<line x1="290.5" y1="537.2" x2="290.5" y2="555.3"/>
<line x1="296.5" y1="537.2" x2="296.5" y2="552.3"/>
<line x1="302.5" y1="537.2" x2="302.5" y2="550.7"/>
<line x1="307.5" y1="537.2" x2="307.5" y2="548.0"/>
<line x1="313.5" y1="537.2" x2="313.5" y2="547.7"/>
<line x1="319.5" y1="537.2" x2="319.5" y2="546.7"/>
<line x1="325.5" y1="537.2" x2="325.5" y2="548.3"/>
<line x1="331.5" y1="537.2" x2="331.5" y2="548.3"/>
<line x1="337.5" y1="537.2" x2="337.5" y2="547.7"/>
<line x1="342.5" y1="537.2" x2="342.5" y2="546.7"/>
<line x1="348.5" y1="537.2" x2="348.5" y2="544.7"/>
<line x1="354.5" y1="537.2" x2="354.5" y2="543.0"/>
<line x1="360.5" y1="537.2" x2="360.5" y2="541.7"/>
<line x1="366.5" y1="537.2" x2="366.5" y2="540.3"/>
</g>
<polyline points="0.0,547.3 10.0,545.3 18.7,543.1 27.3,541.0 31.7,539.3 36.0,537.8 40.3,536.0 45.0,533.7 49.7,532.0 57.0,528.0 62.0,526.3 66.7,525.3 70.7,524.3 75.3,523.5 79.7,522.5 84.0,522.0 88.3,521.7 92.7,521.3 97.3,521.3 101.7,521.9 105.7,522.0 110.3,522.5 114.7,523.3 119.0,524.2 123.7,525.3 127.7,526.3 132.0,527.5 136.7,529.0 140.7,530.3 145.3,531.5 149.7,532.5 154.0,533.5 158.3,534.3 162.7,535.2 167.3,536.3 171.0,537.3 175.3,537.8 179.7,538.3 184.7,540.0 188.3,541.0 193.0,542.3 197.3,543.1 201.3,544.1 206.3,545.3 210.7,546.3 215.0,548.1 219.7,549.0 224.0,549.5 228.3,550.3 271.7,550.3 276.0,550.8 280.7,551.3 285.0,551.7 289.7,552.3 294.0,553.2 298.3,553.5 311.0,553.4 315.3,553.0 320.0,552.5 324.3,551.7 328.7,551.2 333.0,550.8 337.7,550.1 342.0,549.0 350.0,548.3 355.0,547.3 359.3,546.5 366.0,545.8" fill="none" stroke="#ff3333" stroke-width="1.15" stroke-dasharray="2.2 2"/>
<polyline points="0.0,575.8 5.0,570.8 10.0,569.2 16.0,568.7 21.0,567.6 27.0,568.7 33.0,569.8 39.0,571.4 45.0,567.9 51.0,564.8 57.0,569.5 63.0,580.6 69.0,592.5 74.5,597.7 80.0,595.1 86.0,596.4 92.0,596.1 98.0,590.4 104.0,593.6 110.0,596.4 116.0,602.4 122.0,604.6 127.0,604.6 133.0,601.5 139.0,594.8 145.0,586.1 151.0,572.7 156.0,568.7 162.0,571.9 168.0,586.9 174.0,596.4 180.0,603.5 186.0,606.2 191.0,604.3 197.0,601.2 203.0,597.2 209.0,591.7 214.0,583.7 220.0,575.5 226.0,574.6 232.0,576.6 238.0,576.1 244.0,586.1 250.0,590.9 255.0,603.5 261.0,604.3 267.0,607.5 273.0,605.5 278.0,607.0 284.0,604.7 290.0,598.3 296.0,585.0 302.0,565.0 308.0,565.0 313.0,570.8 319.0,577.5 325.0,590.8 331.0,600.0 337.0,599.7 343.0,591.7 348.0,580.0 354.0,577.5 360.0,575.8 366.0,577.0" fill="none" stroke="#48c0c0" stroke-width="1.1" stroke-linejoin="round"/>
<polyline points="0.0,582.2 10.0,575.8 16.0,570.3 22.0,567.9 28.0,568.2 34.0,569.2 40.0,570.3 46.0,568.7 52.0,567.1 58.0,568.2 63.0,573.5 69.0,583.7 75.0,591.7 80.0,594.8 86.0,595.6 92.0,596.4 98.0,594.0 104.0,593.2 110.0,593.6 116.0,598.3 122.0,601.5 128.0,603.5 133.0,603.1 139.0,598.8 145.0,592.5 151.0,583.7 157.0,575.8 162.0,572.7 168.0,577.7 174.0,586.9 180.0,595.6 186.0,602.7 191.0,604.6 197.0,603.5 203.0,601.2 209.0,595.6 214.0,589.3 220.0,582.2 226.0,577.7 232.0,575.5 238.0,575.8 244.0,579.8 250.0,586.9 255.0,594.0 261.0,602.0 267.0,605.9 273.0,606.2 278.0,606.7 284.0,605.3 290.0,602.5 296.0,594.2 302.0,581.7 308.0,570.0 313.0,566.7 319.0,570.8 325.0,581.7 331.0,590.0 337.0,597.5 343.0,595.0 348.0,589.2 354.0,581.7 360.0,578.3 366.0,575.8" fill="none" stroke="#ff3333" stroke-width="1.15" stroke-dasharray="2.2 2"/>
<rect x="0" y="441" width="567" height="1" fill="#555"/>
<rect x="0" y="442" width="567" height="1" fill="#aaa"/>
<rect x="0" y="443" width="567" height="1" fill="#444"/>
<rect x="0" y="501" width="567" height="1" fill="#333"/>
<rect x="0" y="502" width="567" height="1" fill="#999"/>
<rect x="0" y="503" width="567" height="1" fill="#aaa"/>
<rect x="0" y="559" width="567" height="1" fill="#888"/>
<rect x="0" y="560" width="567" height="1" fill="#aaa"/>
<rect x="0" y="561" width="567" height="1" fill="#444"/>
<rect x="0" y="613" width="568" height="1" fill="#333"/>
<rect x="0" y="614" width="568" height="1" fill="#ddd"/>
<rect x="566" y="3" width="1.4" height="611" fill="#666"/>
<text x="8.7" y="476.8" font-size="12" fill="#111" textLength="38.5" lengthAdjust="spacingAndGlyphs">RSI(14)</text>
<text x="5.5" y="538.2" font-size="12" fill="#111" textLength="80.8" lengthAdjust="spacingAndGlyphs">MACD(12,26,9)</text>
<text x="8.7" y="591.5" font-size="12" fill="#111" textLength="61.8" lengthAdjust="spacingAndGlyphs">Stoch(9,6,3)</text>
<text x="516.0" y="179.0" font-size="10.5" fill="#3c9a3c">R3</text>
<text x="515.5" y="195.5" font-size="10.5" fill="#3c9a3c">R2</text>
<text x="515.0" y="212.5" font-size="10.5" fill="#3c9a3c">R1</text>
<text x="517.0" y="255.5" font-size="10.5" fill="#ff4040">S1</text>
<text x="517.5" y="274.0" font-size="10.5" fill="#ff4040">S2</text>
<text x="517.5" y="290.0" font-size="10.5" fill="#ff4040">S3</text>
<rect x="567" y="6.0" width="2" height="1" fill="#444"/>
<text x="571.0" y="9.7" font-size="8.3" fill="#1a1a1a" textLength="24.0" lengthAdjust="spacingAndGlyphs">3627.60</text>
<rect x="567" y="30.0" width="2" height="1" fill="#444"/>
<text x="571.0" y="33.8" font-size="8.3" fill="#1a1a1a" textLength="24.0" lengthAdjust="spacingAndGlyphs">3585.10</text>
<rect x="567" y="54.0" width="2" height="1" fill="#444"/>
<text x="571.0" y="57.8" font-size="8.3" fill="#1a1a1a" textLength="24.0" lengthAdjust="spacingAndGlyphs">3542.60</text>
<rect x="567" y="78.0" width="2" height="1" fill="#444"/>
<text x="571.0" y="81.9" font-size="8.3" fill="#1a1a1a" textLength="24.0" lengthAdjust="spacingAndGlyphs">3498.85</text>
<rect x="567" y="102.0" width="2" height="1" fill="#444"/>
<text x="571.0" y="105.9" font-size="8.3" fill="#1a1a1a" textLength="24.0" lengthAdjust="spacingAndGlyphs">3456.35</text>
<rect x="567" y="126.0" width="2" height="1" fill="#444"/>
<text x="571.0" y="129.9" font-size="8.3" fill="#1a1a1a" textLength="24.0" lengthAdjust="spacingAndGlyphs">3413.85</text>
<rect x="567" y="150.0" width="2" height="1" fill="#444"/>
<text x="571.0" y="154.0" font-size="8.3" fill="#1a1a1a" textLength="24.0" lengthAdjust="spacingAndGlyphs">3370.10</text>
<rect x="567" y="175.0" width="2" height="1" fill="#444"/>
<text x="571.0" y="178.0" font-size="8.3" fill="#1a1a1a" textLength="24.0" lengthAdjust="spacingAndGlyphs">3327.60</text>
<rect x="567" y="199.0" width="2" height="1" fill="#444"/>
<text x="571.0" y="202.1" font-size="8.3" fill="#1a1a1a" textLength="24.0" lengthAdjust="spacingAndGlyphs">3285.10</text>
<rect x="567" y="223.0" width="2" height="1" fill="#444"/>
<text x="571.0" y="226.2" font-size="8.3" fill="#1a1a1a" textLength="24.0" lengthAdjust="spacingAndGlyphs">3242.60</text>
<rect x="567" y="247.0" width="2" height="1" fill="#444"/>
<text x="571.0" y="250.2" font-size="8.3" fill="#1a1a1a" textLength="24.0" lengthAdjust="spacingAndGlyphs">3200.10</text>
<rect x="567" y="271.0" width="2" height="1" fill="#444"/>
<text x="571.0" y="274.2" font-size="8.3" fill="#1a1a1a" textLength="24.0" lengthAdjust="spacingAndGlyphs">3156.35</text>
<rect x="567" y="295.0" width="2" height="1" fill="#444"/>
<text x="571.0" y="298.3" font-size="8.3" fill="#1a1a1a" textLength="24.0" lengthAdjust="spacingAndGlyphs">3112.60</text>
<rect x="567" y="319.0" width="2" height="1" fill="#444"/>
<text x="571.0" y="322.4" font-size="8.3" fill="#1a1a1a" textLength="24.0" lengthAdjust="spacingAndGlyphs">3070.10</text>
<rect x="567" y="343.0" width="2" height="1" fill="#444"/>
<text x="571.0" y="346.4" font-size="8.3" fill="#1a1a1a" textLength="24.0" lengthAdjust="spacingAndGlyphs">3027.60</text>
<rect x="567" y="367.0" width="2" height="1" fill="#444"/>
<text x="571.0" y="370.4" font-size="8.3" fill="#1a1a1a" textLength="24.0" lengthAdjust="spacingAndGlyphs">2985.10</text>
<rect x="567" y="391.0" width="2" height="1" fill="#444"/>
<text x="571.0" y="394.5" font-size="8.3" fill="#1a1a1a" textLength="24.0" lengthAdjust="spacingAndGlyphs">2941.35</text>
<rect x="567" y="415.0" width="2" height="1" fill="#444"/>
<text x="571.0" y="418.6" font-size="8.3" fill="#1a1a1a" textLength="24.0" lengthAdjust="spacingAndGlyphs">2898.85</text>
<rect x="567" y="439.0" width="2" height="1" fill="#444"/>
<text x="571.0" y="442.6" font-size="8.3" fill="#1a1a1a" textLength="24.0" lengthAdjust="spacingAndGlyphs">2856.35</text>
<rect x="568" y="164.1" width="30" height="7.8" fill="#008000"/>
<text x="570.5" y="171.0" font-size="8.3" fill="#fff" textLength="24.5" lengthAdjust="spacingAndGlyphs">3339.84</text>
<rect x="568" y="180.8" width="30" height="7.8" fill="#008000"/>
<text x="570.5" y="187.7" font-size="8.3" fill="#fff" textLength="24.5" lengthAdjust="spacingAndGlyphs">3309.89</text>
<rect x="568" y="197.5" width="30" height="7.8" fill="#008000"/>
<text x="570.5" y="204.4" font-size="8.3" fill="#fff" textLength="24.5" lengthAdjust="spacingAndGlyphs">3279.94</text>
<rect x="568" y="221.7" width="28" height="7.8" fill="#000000"/>
<text x="570.5" y="228.6" font-size="8.3" fill="#fff" textLength="24.5" lengthAdjust="spacingAndGlyphs">3238.14</text>
<rect x="568" y="242.1" width="30" height="7.8" fill="#ff0000"/>
<text x="570.5" y="249.0" font-size="8.3" fill="#fff" textLength="24.5" lengthAdjust="spacingAndGlyphs">3200.06</text>
<rect x="568" y="258.9" width="30" height="7.8" fill="#ff0000"/>
<text x="570.5" y="265.8" font-size="8.3" fill="#fff" textLength="24.5" lengthAdjust="spacingAndGlyphs">3170.11</text>
<rect x="568" y="275.3" width="30" height="7.8" fill="#ff0000"/>
<text x="570.5" y="282.2" font-size="8.3" fill="#fff" textLength="24.5" lengthAdjust="spacingAndGlyphs">3140.16</text>
<text x="570.0" y="451.3" font-size="8.3" fill="#1a1a1a" textLength="10.3" lengthAdjust="spacingAndGlyphs">100</text>
<text x="570.0" y="464.4" font-size="8.3" fill="#1a1a1a" textLength="6.5" lengthAdjust="spacingAndGlyphs">70</text>
<text x="570.0" y="487.3" font-size="8.3" fill="#1a1a1a" textLength="6.5" lengthAdjust="spacingAndGlyphs">30</text>
<text x="570.0" y="499.4" font-size="8.3" fill="#1a1a1a" textLength="3.3" lengthAdjust="spacingAndGlyphs">0</text>
<text x="570.0" y="511.3" font-size="8.3" fill="#1a1a1a" textLength="19.5" lengthAdjust="spacingAndGlyphs">63.045</text>
<text x="570.0" y="540.1" font-size="8.3" fill="#1a1a1a" textLength="12.2" lengthAdjust="spacingAndGlyphs">0.00</text>
<text x="570.0" y="557.8" font-size="8.3" fill="#1a1a1a" textLength="21.7" lengthAdjust="spacingAndGlyphs">-41.436</text>
<text x="569.5" y="569.8" font-size="8.3" fill="#1a1a1a" textLength="10.3" lengthAdjust="spacingAndGlyphs">100</text>
<text x="569.5" y="575.3" font-size="8.3" fill="#1a1a1a" textLength="6.5" lengthAdjust="spacingAndGlyphs">80</text>
<text x="569.5" y="605.7" font-size="8.3" fill="#1a1a1a" textLength="6.5" lengthAdjust="spacingAndGlyphs">20</text>
<text x="569.5" y="611.7" font-size="8.3" fill="#1a1a1a" textLength="3.3" lengthAdjust="spacingAndGlyphs">0</text>
<text x="3.0" y="622.8" font-size="8.2" fill="#1a1a1a" textLength="16.5" lengthAdjust="spacingAndGlyphs">20:00</text>
<rect x="28.0" y="614" width="1" height="3" fill="#444"/>
<text x="28.0" y="622.8" font-size="8.2" fill="#1a1a1a" textLength="38.5" lengthAdjust="spacingAndGlyphs">6 May 00:00</text>
<rect x="74.0" y="614" width="1" height="3" fill="#444"/>
<text x="74.5" y="622.8" font-size="8.2" fill="#1a1a1a" textLength="38.5" lengthAdjust="spacingAndGlyphs">7 May 08:00</text>
<rect x="120.0" y="614" width="1" height="3" fill="#444"/>
<text x="121.0" y="622.8" font-size="8.2" fill="#1a1a1a" textLength="38.5" lengthAdjust="spacingAndGlyphs">8 May 16:00</text>
<rect x="167.0" y="614" width="1" height="3" fill="#444"/>
<text x="167.5" y="622.8" font-size="8.2" fill="#1a1a1a" textLength="42.0" lengthAdjust="spacingAndGlyphs">11 May 22:01</text>
<rect x="214.0" y="614" width="1" height="3" fill="#444"/>
<text x="214.2" y="622.8" font-size="8.2" fill="#1a1a1a" textLength="42.0" lengthAdjust="spacingAndGlyphs">13 May 04:00</text>
<rect x="260.0" y="614" width="1" height="3" fill="#444"/>
<text x="261.0" y="622.8" font-size="8.2" fill="#1a1a1a" textLength="42.0" lengthAdjust="spacingAndGlyphs">14 May 12:00</text>
<rect x="307.0" y="614" width="1" height="3" fill="#444"/>
<text x="307.5" y="622.8" font-size="8.2" fill="#1a1a1a" textLength="42.0" lengthAdjust="spacingAndGlyphs">15 May 20:00</text>
<rect x="354.0" y="614" width="1" height="3" fill="#444"/>
<text x="354.2" y="622.8" font-size="8.2" fill="#1a1a1a" textLength="42.0" lengthAdjust="spacingAndGlyphs">19 May 00:00</text>
</svg>
</body></html>
